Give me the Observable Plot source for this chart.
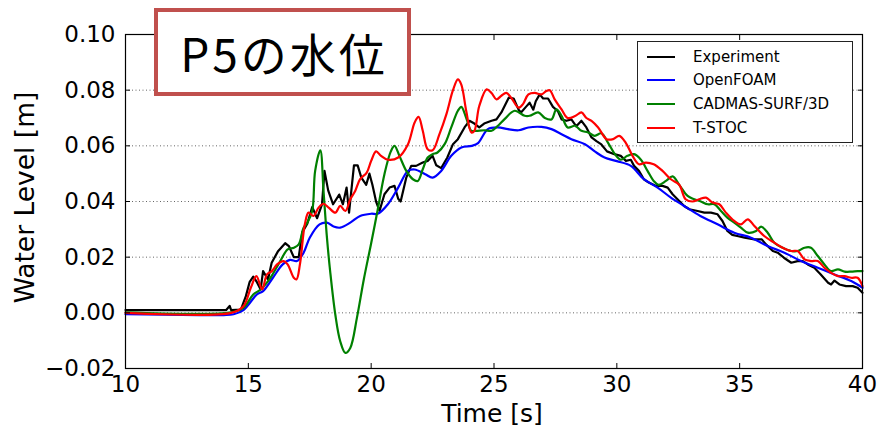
<!DOCTYPE html>
<html><head><meta charset="utf-8">
<script src="https://cdn.jsdelivr.net/npm/d3@7"></script>
<script src="https://cdn.jsdelivr.net/npm/@observablehq/plot@0.6"></script>
<style>
body{margin:0;background:#fff;}
#wrap{position:relative;width:877px;height:427px;font-family:"DejaVu Sans",sans-serif;}
#title{position:absolute;left:154px;top:8px;width:257px;height:88px;box-sizing:border-box;border:4px solid #c0504d;background:#fff;display:flex;align-items:center;justify-content:center;font-family:"Noto Sans CJK JP",sans-serif;font-size:46px;color:#000;letter-spacing:3px;line-height:1;padding-left:3px;}
#legend{position:absolute;left:637px;top:41px;width:216px;height:102px;box-sizing:border-box;border:1px solid #222;background:#fff;font-size:15px;}
.li{position:absolute;left:0;height:0;}
.sw{position:absolute;left:9px;width:28px;height:2px;top:-1px;}
.lt{position:absolute;left:55px;top:-10px;line-height:20px;white-space:nowrap;color:#000;}
</style>
</head><body>
<div id="wrap"></div>
<script>
const xTicks = [10, 15, 20, 25, 30, 35, 40];
const yTicks = [-0.02, 0, 0.02, 0.04, 0.06, 0.08, 0.10];
const seriesNames = ["Experiment", "OpenFOAM", "CADMAS-SURF/3D", "T-STOC"];
const seriesColors = ["#000000", "#0000ff", "#008000", "#ff0000"];

const expT = [10,14.1,14.24,14.3,14.7,14.9,15.05,15.2,15.35,15.5,15.6,15.8,15.95,16.2,16.5,16.65,16.85,17.05,17.2,17.4,17.6,17.8,18.0,18.1,18.25,18.45,18.7,18.85,19.0,19.1,19.3,19.45,19.6,19.8,19.93,20.05,20.2,20.34,20.54,20.75,20.95,21.1,21.2,21.43,21.63,21.83,22.1,22.3,22.5,22.65,22.85,23.1,23.33,23.53,23.8,24.0,24.2,24.4,24.6,24.9,25.1,25.3,25.6,25.8,26.0,26.1,26.3,26.45,26.6,26.7,26.86,27.0,27.2,27.4,27.6,27.75,27.95,28.15,28.35,28.56,28.76,28.97,29.17,29.37,29.6,29.9,30.16,30.37,30.57,30.7,30.9,31.1,31.3,31.6,31.86,32.07,32.27,32.47,32.74,32.95,33.29,33.56,33.83,34.1,34.3,34.5,34.7,34.9,35.2,35.6,35.9,36.07,36.35,36.55,36.8,37.1,37.36,37.57,37.77,38.04,38.3,38.6,38.72,38.86,39.06,39.33,39.6,39.8,40.0];
const expV = [0.001,0.001,0.0025,0.001,0.0012,0.006,0.011,0.013,0.011,0.0084,0.015,0.012,0.018,0.022,0.025,0.024,0.020,0.020,0.029,0.032,0.038,0.034,0.039,0.051,0.044,0.039,0.0425,0.039,0.045,0.036,0.053,0.053,0.0486,0.046,0.050,0.046,0.040,0.0366,0.0426,0.045,0.0456,0.041,0.040,0.0486,0.0528,0.0528,0.054,0.0546,0.0564,0.053,0.052,0.0558,0.0606,0.0624,0.0666,0.069,0.068,0.0666,0.068,0.069,0.0695,0.072,0.0773,0.077,0.073,0.072,0.074,0.0755,0.073,0.076,0.0785,0.077,0.077,0.074,0.0725,0.0695,0.069,0.0695,0.067,0.069,0.0666,0.063,0.0617,0.0605,0.058,0.057,0.0564,0.0546,0.055,0.0528,0.051,0.048,0.0468,0.0456,0.0456,0.045,0.0426,0.0408,0.0384,0.0372,0.0366,0.036,0.036,0.0354,0.033,0.0294,0.028,0.0276,0.027,0.0264,0.0264,0.0246,0.0222,0.0216,0.0198,0.018,0.0186,0.0186,0.0174,0.0162,0.0138,0.0108,0.0102,0.0116,0.0102,0.0096,0.0096,0.009,0.0072];

const ofT = [10,13,14.0,14.4,14.8,15.35,15.6,16.0,16.4,16.7,16.98,17.25,17.5,17.9,18.2,18.47,18.74,19.15,19.55,20.0,20.27,20.68,21.1,21.5,21.77,22.2,22.5,22.85,23.26,23.67,24.1,24.35,24.75,25.16,25.57,26.0,26.4,26.93,27.34,27.75,28.15,28.7,29.1,29.5,30.0,30.57,31.1,31.66,32.2,32.74,33.4,34.1,34.78,35.46,36.14,36.82,37.5,38.18,38.86,39.54,40];
const ofV = [-0.0005,-0.0008,-0.0008,-0.0005,0.001,0.0066,0.0078,0.0126,0.0174,0.019,0.0186,0.0216,0.027,0.0318,0.0324,0.031,0.0306,0.0324,0.0348,0.0356,0.0356,0.039,0.045,0.051,0.0515,0.0498,0.0486,0.051,0.0564,0.0594,0.06,0.061,0.066,0.0666,0.066,0.0656,0.0666,0.0668,0.066,0.0642,0.0624,0.0606,0.058,0.0558,0.0545,0.0528,0.048,0.045,0.0414,0.0384,0.0348,0.0318,0.0288,0.027,0.024,0.0216,0.0186,0.0162,0.0138,0.0114,0.009];

const cdT = [10,14.3,14.8,15.2,15.5,15.9,16.3,16.6,16.85,17.05,17.25,17.4,17.6,17.72,17.93,18.06,18.2,18.33,18.54,18.74,18.95,19.15,19.42,19.7,20.0,20.27,20.54,20.8,20.95,21.15,21.43,21.7,21.9,22.1,22.3,22.5,22.7,22.99,23.26,23.53,23.67,23.87,24.08,24.28,24.62,24.9,25.16,25.43,25.84,26.25,26.45,26.8,27.07,27.34,27.54,27.75,28.0,28.3,28.56,28.83,29.1,29.37,29.65,29.92,30.16,30.43,30.7,30.98,31.25,31.5,31.7,32.0,32.27,32.54,32.88,33.15,33.42,33.7,33.97,34.24,34.5,34.78,35.05,35.33,35.67,35.87,36.14,36.41,36.75,37.1,37.36,37.64,37.9,38.18,38.45,38.72,39.0,39.27,39.54,39.8,40];
const cdV = [0.0002,0.0002,0.0018,0.0066,0.0084,0.0126,0.0186,0.0228,0.0234,0.0246,0.0306,0.0324,0.0366,0.051,0.0584,0.0438,0.027,0.015,-0.0006,-0.0102,-0.0144,-0.0126,-0.0018,0.012,0.025,0.0372,0.0498,0.058,0.06,0.0564,0.051,0.048,0.0474,0.0516,0.0558,0.057,0.0576,0.0606,0.0666,0.0726,0.074,0.070,0.0654,0.0654,0.0656,0.0654,0.0672,0.0696,0.0726,0.0708,0.0708,0.072,0.070,0.0695,0.0731,0.0708,0.0666,0.0672,0.0654,0.0648,0.0636,0.0645,0.061,0.057,0.055,0.0564,0.057,0.055,0.051,0.0474,0.046,0.0474,0.049,0.046,0.042,0.0408,0.040,0.039,0.039,0.0366,0.0342,0.0324,0.0306,0.0288,0.0294,0.031,0.0288,0.0252,0.0234,0.0222,0.0222,0.0234,0.0234,0.0204,0.0174,0.015,0.0156,0.0148,0.0148,0.015,0.015];

const tsT = [10,14.3,14.8,15.1,15.33,15.56,15.76,15.96,16.17,16.44,16.6,16.85,16.96,17.1,17.3,17.45,17.65,17.86,18.06,18.27,18.54,18.74,18.95,19.15,19.35,19.55,19.82,20.0,20.2,20.4,20.68,21.1,21.5,21.77,21.93,22.1,22.3,22.5,22.78,23.06,23.33,23.53,23.67,23.87,24.08,24.2,24.4,24.7,24.9,25.1,25.3,25.5,25.7,26.0,26.18,26.4,26.66,26.93,27.13,27.27,27.47,27.75,28.0,28.3,28.56,28.76,28.97,29.24,29.58,29.85,30.1,30.37,30.64,30.9,31.18,31.5,31.86,32.2,32.54,32.8,33.08,33.35,33.63,33.9,34.17,34.44,34.78,35.05,35.33,35.6,36.0,36.41,36.75,37.1,37.36,37.64,37.9,38.18,38.45,38.72,39.0,39.27,39.54,39.8,40];
const tsV = [0.0,0.0,0.0024,0.009,0.0132,0.0084,0.0138,0.015,0.0174,0.0186,0.0174,0.0126,0.012,0.0174,0.0318,0.036,0.0348,0.0378,0.0392,0.0378,0.036,0.0384,0.0366,0.0408,0.0438,0.048,0.0504,0.0546,0.058,0.0564,0.055,0.0558,0.0606,0.0684,0.0704,0.0654,0.0588,0.0584,0.0642,0.0713,0.080,0.0839,0.082,0.0725,0.0648,0.0654,0.0743,0.0803,0.079,0.0767,0.078,0.079,0.0773,0.0737,0.075,0.0785,0.079,0.0785,0.0797,0.080,0.0767,0.0731,0.070,0.0707,0.072,0.070,0.069,0.0666,0.0624,0.0624,0.0636,0.061,0.0564,0.0534,0.054,0.0534,0.051,0.048,0.046,0.0408,0.040,0.0408,0.0414,0.0396,0.039,0.036,0.033,0.0318,0.0336,0.0312,0.0276,0.0252,0.0234,0.0222,0.0222,0.0192,0.0186,0.0186,0.0162,0.0144,0.0132,0.0132,0.0126,0.0126,0.0096];

const toRows = (T, V) => T.map((t, i) => ({t, v: V[i]}));
const exp = toRows(expT, expV), of = toRows(ofT, ofV), cd = toRows(cdT, cdV), ts = toRows(tsT, tsV);
const fmtY = d => (d < 0 ? "\u2212" + Math.abs(d).toFixed(2) : d.toFixed(2));

const chart = Plot.plot({
  width: 877, height: 427,
  marginLeft: 125, marginRight: 15, marginTop: 34, marginBottom: 59,
  style: {fontFamily: "DejaVu Sans", fontSize: "23px", color: "#000", background: "transparent"},
  x: {domain: [10, 40]},
  y: {domain: [-0.02, 0.10]},
  marks: [
    Plot.gridY(yTicks, {stroke: "#555", strokeOpacity: 0.9, strokeDasharray: "1,2.5"}),
    Plot.line(exp, {x: "t", y: "v", stroke: seriesColors[0], strokeWidth: 2.2}),
    Plot.line(of, {x: "t", y: "v", stroke: seriesColors[1], strokeWidth: 2.2, curve: "catmull-rom"}),
    Plot.line(cd, {x: "t", y: "v", stroke: seriesColors[2], strokeWidth: 2.2, curve: "catmull-rom"}),
    Plot.line(ts, {x: "t", y: "v", stroke: seriesColors[3], strokeWidth: 2.2, curve: "catmull-rom"}),
    Plot.frame({stroke: "#000", strokeWidth: 1.2}),
    Plot.axisX(xTicks, {tickSize: -5, tickPadding: 12, tickFormat: d => String(d), label: null, fontSize: 23}),
    Plot.axisX(xTicks, {anchor: "top", tickSize: -5, tickFormat: () => "", label: null}),
    Plot.axisY(yTicks, {tickSize: -5, tickPadding: 15, tickFormat: fmtY, label: null, fontSize: 23}),
    Plot.axisY(yTicks, {anchor: "right", tickSize: -5, tickFormat: () => "", label: null}),
    Plot.text(["Time [s]"], {frameAnchor: "bottom", textAnchor: "middle", lineAnchor: "bottom", dy: 53, dx: -2, fontSize: 25, fill: "#000"}),
    Plot.text(["Water Level [m]"], {frameAnchor: "left", textAnchor: "middle", lineAnchor: "bottom", rotate: -90, dx: -92, dy: -4, fontSize: 26.5, fill: "#000"})
  ]
});
const wrap = document.getElementById("wrap");
wrap.appendChild(chart);

const title = document.createElement("div");
title.id = "title";
title.textContent = "P5の水位";
wrap.appendChild(title);

const legend = document.createElement("div");
legend.id = "legend";
const rowY = [14.7, 38, 62.3, 85.7];
seriesNames.forEach((name, i) => {
  const li = document.createElement("div");
  li.className = "li";
  li.style.top = rowY[i] + "px";
  const sw = document.createElement("div");
  sw.className = "sw";
  sw.style.background = seriesColors[i];
  const lt = document.createElement("div");
  lt.className = "lt";
  lt.textContent = name;
  li.appendChild(sw); li.appendChild(lt);
  legend.appendChild(li);
});
wrap.appendChild(legend);
</script>
</body></html>
